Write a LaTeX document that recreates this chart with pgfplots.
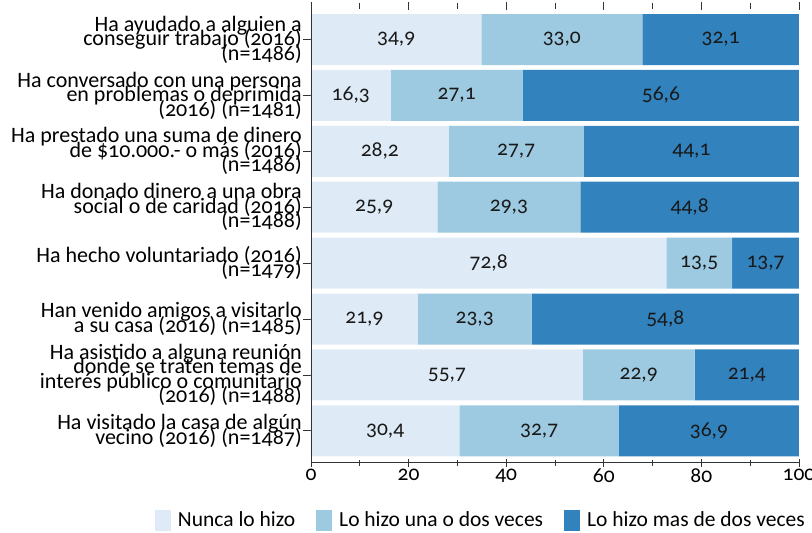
\documentclass[border=0pt]{standalone}
\usepackage{fontspec}
\setmainfont{Carlito}[Numbers=OldStyle]
\usepackage{pgfplots}
\pgfplotsset{compat=1.18}
\usepackage{pgfplotstable}
\definecolor{c1}{HTML}{DEEBF7}
\definecolor{c2}{HTML}{9ECAE1}
\definecolor{c3}{HTML}{3182BD}
\definecolor{axgray}{HTML}{333333}

\pgfplotstableread{
idx nunca una mas
0 34.9 33.0 32.1
1 16.3 27.1 56.6
2 28.2 27.7 44.1
3 25.9 29.3 44.8
4 72.8 13.5 13.7
5 21.9 23.3 54.8
6 55.7 22.9 21.4
7 30.4 32.7 36.9
}\datos

\newcommand\labfont{\fontsize{22}{14.5}\selectfont\lineskiplimit-30pt\relax}

\pgfplotsset{mybase/.style={
  scale only axis, width=488pt, height=456.7pt,
  xmin=0, xmax=100, ymin=-0.6, ymax=7.57,
  y dir=reverse}}

\begin{document}
\begin{tikzpicture}
\begin{axis}[
  mybase, name=ax,
  xbar stacked, bar width=51pt,
  axis line style={draw=none},
  xtick={0,20,...,100}, minor xtick={10,30,...,90},
  ytick={0,...,7},
  yticklabels={
    {Ha ayudado a alguien a\\conseguir trabajo (2016)\\(n=1486)},
    {Ha conversado con una persona\\en problemas o deprimida\\(2016) (n=1481)},
    {Ha prestado una suma de dinero\\de \$10.000.- o más (2016)\\(n=1486)},
    {Ha donado dinero a una obra\\social o de caridad (2016)\\(n=1488)},
    {Ha hecho voluntariado (2016)\\(n=1479)},
    {Han venido amigos a visitarlo\\a su casa (2016) (n=1485)},
    {Ha asistido a alguna reunión\\donde se traten temas de\\interés público o comunitario\\(2016) (n=1488)},
    {Ha visitado la casa de algún\\vecino (2016) (n=1487)}},
  ytick pos=left, xtick pos=both,
  xtick align=center, ytick align=outside,
  major tick length=8pt, minor tick length=6pt,
  tick style={axgray, line width=0.8pt},
  yticklabel style={align=right, font=\labfont, inner sep=1pt},
  xticklabel style={font=\fontsize{21.5}{14}\selectfont, inner sep=2pt},
  /pgf/number format/assume math mode=true,
  legend style={draw=none, fill=none, legend columns=3,
    at={(-0.3197,-0.1025)}, anchor=north west,
    inner sep=0pt, outer sep=0pt, nodes={inner sep=0pt, outer sep=0pt},
    font=\fontsize{21.5}{14}\selectfont,
    /tikz/every odd column/.append style={column sep=7pt},
    /tikz/every even column/.append style={column sep=21pt}},
]
\addplot[fill=c1, draw=none,
  legend image code/.code={\fill[c1] (0pt,-10.5pt) rectangle (16pt,10.5pt);}]
  table[x=nunca, y=idx] {\datos};
\addplot[fill=c2, draw=none,
  legend image code/.code={\fill[c2] (0pt,-10.5pt) rectangle (16pt,10.5pt);}]
  table[x=una, y=idx] {\datos};
\addplot[fill=c3, draw=none,
  legend image code/.code={\fill[c3] (0pt,-10.5pt) rectangle (16pt,10.5pt);}]
  table[x=mas, y=idx] {\datos};
\legend{Nunca lo hizo, Lo hizo una o dos veces, Lo hizo mas de dos veces}
\end{axis}
\draw[axgray, line width=0.8pt] (ax.north west) -- (ax.south west) -- (ax.south east);
% labels centred in each segment
\begin{axis}[
  mybase, at={(ax.south west)}, anchor=south west, hide axis,
  point meta=explicit,
  /pgf/number format/assume math mode=true,
  nodes near coords={\pgfmathprintnumber[fixed, fixed zerofill, precision=1, use comma]{\pgfplotspointmeta}},
  every node near coord/.append style={anchor=center, font=\fontsize{21.5}{14}\selectfont, text=black!90},
]
\addplot[only marks, mark=none] table[x expr=\thisrow{nunca}/2, y=idx, meta=nunca] {\datos};
\addplot[only marks, mark=none] table[x expr=\thisrow{nunca}+\thisrow{una}/2, y=idx, meta=una] {\datos};
\addplot[only marks, mark=none] table[x expr=\thisrow{nunca}+\thisrow{una}+\thisrow{mas}/2, y=idx, meta=mas] {\datos};
\end{axis}
\pgfresetboundingbox
\path[use as bounding box] ([xshift=-311pt, yshift=-70.3pt]ax.south west) rectangle ++(812pt,533pt);
\end{tikzpicture}
\end{document}
